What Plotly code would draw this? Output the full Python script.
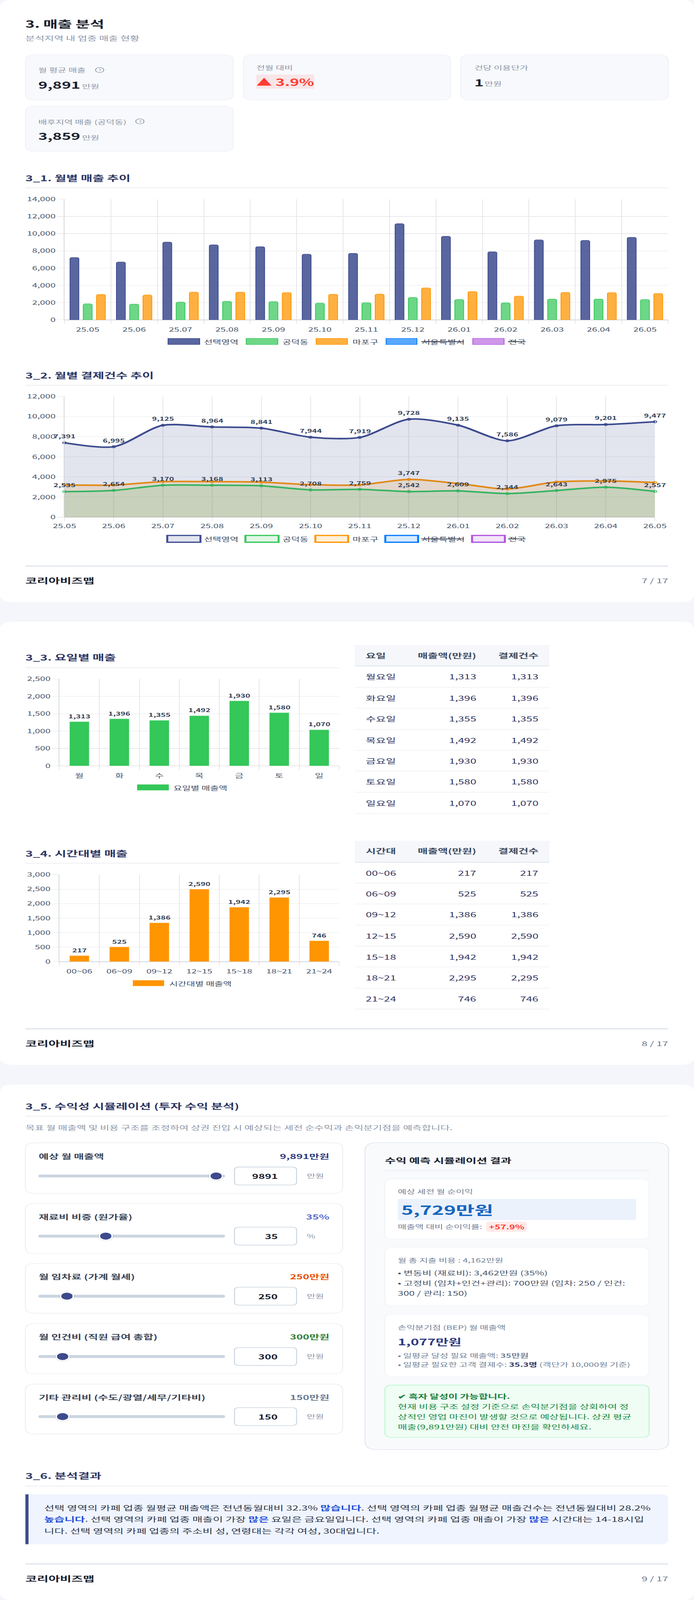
import plotly.graph_objects as go

W = 1776
H = 6604
FONT = "Noto Sans CJK KR"

# monthly data
months = ["25.05", "25.06", "25.07", "25.08", "25.09", "25.10", "25.11", "25.12", "26.01", "26.02", "26.03", "26.04", "26.05"]
sales_sel = [7222, 6706, 9014, 8698, 8483, 7609, 7709, 11149, 9687, 7896, 9271, 9214, 9573]
sales_dong = [1849, 1820, 2049, 2150, 2107, 1935, 1978, 2594, 2350, 1963, 2407, 2407, 2350]
sales_gu = [2938, 2880, 3210, 3210, 3153, 2966, 2980, 3697, 3282, 2751, 3181, 3153, 3052]
count_sel = [7391, 6995, 9125, 8964, 8841, 7944, 7919, 9728, 9135, 7586, 9079, 9201, 9477]
count_dong = [2535, 2654, 3170, 3168, 3113, 2708, 2759, 2542, 2609, 2344, 2643, 2975, 2557]
count_gu = [3207, 3190, 3527, 3527, 3477, 3224, 3207, 3747, 3342, 2802, 3494, 3590, 3443]

# weekday / time band: drawn bar height differs a little from the printed number
days = ["월", "화", "수", "목", "금", "토", "일"]
day_names = ["월요일", "화요일", "수요일", "목요일", "금요일", "토요일", "일요일"]
day_labels = [1313, 1396, 1355, 1492, 1930, 1580, 1070]
day_bars = [1268, 1352, 1308, 1441, 1868, 1526, 1036]
hours = ["00~06", "06~09", "09~12", "12~15", "15~18", "18~21", "21~24"]
hour_labels = [217, 525, 1386, 2590, 1942, 2295, 746]
hour_bars = [202, 504, 1334, 2496, 1872, 2208, 715]

legend_names = ["선택영역", "공덕동", "마포구", "서울특별시", "전국"]
legend_rgb = ["61,75,142", "52,199,89", "255,149,0", "0,122,255", "175,82,222"]

# simulator
slider_names = ["예상 월 매출액", "재료비 비중 (원가율)", "월 임차료 (가계 월세)", "월 인건비 (직원 급여 총합)", "기타 관리비 (수도/광열/세무/기타비)"]
slider_values = [9891, 35, 250, 300, 150]
slider_max = [10000, 100, 2000, 3000, 1500]
slider_text = ["9,891만원", "35%", "250만원", "300만원", "150만원"]
slider_units = ["만원", "%", "만원", "만원", "만원"]
slider_colors = ["#2d3b80", "#5a67c8", "#e65100", "#2e7d32", "#6b7a90"]

TITLE = "#2d3561"
GRAY = "#8b95a7"
TICK = "#475569"
GRID = "#e9e9ec"
GRID_V = "#e6e6e9"

shapes = []
notes = []


def fx(x):
    return x / W


def fy(y):
    return 1 - y / H


def rrect(x0, y0, x1, y1, r, fill, line=None, lw=0, corners=(1, 1, 1, 1)):
    # corners: tl, tr, br, bl
    tl, tr, br, bl = [r * c for c in corners]
    X0, X1, Y0, Y1 = fx(x0), fx(x1), fy(y0), fy(y1)
    rx = lambda v: v / W
    ry = lambda v: v / H
    p = f"M {X0 + rx(tl)} {Y0} L {X1 - rx(tr)} {Y0} Q {X1} {Y0} {X1} {Y0 - ry(tr)} "
    p += f"L {X1} {Y1 + ry(br)} Q {X1} {Y1} {X1 - rx(br)} {Y1} "
    p += f"L {X0 + rx(bl)} {Y1} Q {X0} {Y1} {X0} {Y1 + ry(bl)} "
    p += f"L {X0} {Y0 - ry(tl)} Q {X0} {Y0} {X0 + rx(tl)} {Y0} Z"
    shapes.append(dict(type="path", path=p, xref="paper", yref="paper", fillcolor=fill,
                       line=dict(color=line or "rgba(0,0,0,0)", width=lw), layer="below"))


def rect(x0, y0, x1, y1, fill):
    shapes.append(dict(type="rect", xref="paper", yref="paper", x0=fx(x0), x1=fx(x1), y0=fy(y0), y1=fy(y1),
                       fillcolor=fill, line=dict(width=0), layer="below"))


def circle(cx, cy, r, fill, line=None, lw=0, layer="below"):
    shapes.append(dict(type="circle", xref="paper", yref="paper", x0=fx(cx - r), x1=fx(cx + r), y0=fy(cy - r), y1=fy(cy + r),
                       fillcolor=fill, line=dict(color=line or "rgba(0,0,0,0)", width=lw), layer=layer))


def txt(x, y, s, size, color, bold=False, anchor="left"):
    notes.append(dict(xref="paper", yref="paper", x=fx(x), y=fy(y), text=s, showarrow=False, xanchor=anchor, yanchor="middle",
                      borderpad=0, borderwidth=0,
                      font=dict(family=FONT, size=size, color=color, weight=700 if bold else 400)))


def data_label(axis, x, y, s, shift):
    notes.append(dict(xref="x" + axis, yref="y" + axis, x=x, y=y, yshift=shift, text=s, showarrow=False,
                      font=dict(family=FONT, size=21, color="#334155", weight=700)))


def section(y_title, y_rule, s, x1=1710):
    txt(65, y_title, s, 32.5, TITLE, True)
    rect(65, y_rule - 2, x1, y_rule + 2, "#f0f1f6")


def footer(y_rule, y_text, page):
    rect(65, y_rule - 1.5, 1710, y_rule + 1.5, "#cbd5e0")
    txt(65, y_text, "코리아비즈맵", 32, "#1a202c", True)
    txt(1710, y_text, page, 27, "#6b7a90", anchor="right")


def legend_row(xs, text_xs, y0, y1, y_text, strike_y, alphas, lw):
    for i, name in enumerate(legend_names):
        rrect(xs[i][0], y0, xs[i][1], y1, 0, f"rgba({legend_rgb[i]},{alphas[i]})", f"rgb({legend_rgb[i]})", lw)
        txt(text_xs[i], y_text, name, 24, "#3d4a5f")
    for i, w in ((3, 108), (4, 44)):
        rect(text_xs[i] - 1, strike_y - 1.5, text_xs[i] + w, strike_y + 1.5, "#2f3b4c")


# pages
rrect(0, 0, 1776, 2485, 32, "white")
rrect(0, 2566, 1776, 4395, 32, "white")
rrect(0, 4476, 1776, 6604, 32, "white")

txt(65, 97, "3. 매출 분석", 40, "#1a202c", True)
txt(65, 156, "분석지역 내 업종 매출 현황", 26.5, GRAY)

# KPI cards
for x0, x1, y0, y1 in [(65, 597, 226, 413), (623, 1153, 226, 413), (1179, 1710, 226, 413), (65, 597, 438, 625)]:
    rrect(x0, y0, x1, y1, 24, "#f8f9fc", "#eef0f5", 2)


def help_icon(cx, cy):
    circle(cx, cy, 10.5, "rgba(0,0,0,0)", GRAY, 2)
    txt(cx, cy, "?", 15, GRAY, anchor="center")


txt(98, 289, "월 평균 매출", 24, GRAY)
help_icon(255, 289)
txt(98, 349, "9,891", 40, "#1a202c", True)
txt(210, 355, "만원", 24, GRAY)
txt(656, 279, "전월 대비", 24, GRAY)
rect(656, 308, 804, 366, "#f8e5e8")
txt(656, 337, "▲ 3.9%", 40, "#ff3b30", True)
txt(1214, 279, "건당 이용단가", 24, GRAY)
txt(1214, 339, "1", 40, "#1a202c", True)
txt(1240, 344, "만원", 24, GRAY)
txt(98, 501, "배후지역 매출 (공덕동)", 24, GRAY)
help_icon(358, 501)
txt(98, 561, "3,859", 40, "#1a202c", True)
txt(210, 567, "만원", 24, GRAY)

section(733, 775, "3_1. 월별 매출 추이")
section(1548, 1590, "3_2. 월별 결제건수 추이")
footer(2336.5, 2395, "7 / 17")

bar_alpha = [0.85, 0.72, 0.75, 0.65, 0.6]
legend_row([(430, 511), (630, 711), (809, 889), (988, 1067), (1210, 1290)], [522, 723, 902, 1079, 1301], 1397, 1422, 1410, 1410, bar_alpha, 2)
legend_row([(428, 513), (628, 713), (807, 891), (986, 1070), (1208, 1292)], [522, 723, 902, 1079, 1301], 2210, 2238, 2224, 2224, [0.15] * 5, 5)

fig = go.Figure()

# chart 1
bar_series = [sales_sel, sales_dong, sales_gu]
for i in range(3):
    fig.add_trace(go.Bar(x=months, y=bar_series[i], name=legend_names[i], xaxis="x", yaxis="y",
                         marker=dict(color=f"rgba({legend_rgb[i]},{bar_alpha[i]})", cornerradius=5,
                                     line=dict(color=f"rgb({legend_rgb[i]})", width=2))))

# chart 2, reversed so that the first series ends up on top
line_series = [count_sel, count_dong, count_gu]
for i in [2, 1, 0]:
    fig.add_trace(go.Scatter(x=months, y=line_series[i], name=legend_names[i], mode="lines+markers", xaxis="x2", yaxis="y2",
                             fill="tozeroy", fillcolor=f"rgba({legend_rgb[i]},0.15)", cliponaxis=False,
                             line=dict(color=f"rgb({legend_rgb[i]})", width=6.5, shape="spline", smoothing=0.8),
                             marker=dict(size=9, color=f"rgba({legend_rgb[i]},0.15)", line=dict(color=f"rgb({legend_rgb[i]})", width=2.5))))

# month names look like numbers, so annotations on this axis go by category index
for k in range(len(months)):
    data_label("2", k, count_sel[k], f"{count_sel[k]:,}", 27)
    data_label("2", k, count_dong[k], f"{count_dong[k]:,}", 27)
data_label("2", 7, count_gu[7], f"{count_gu[7]:,}", 27)

# charts 3 and 4
fig.add_trace(go.Bar(x=days, y=day_bars, name="요일별 매출액", xaxis="x3", yaxis="y3", width=0.485,
                     marker=dict(color="#34c759", line=dict(width=1, color="#7be09a"))))
fig.add_trace(go.Bar(x=hours, y=hour_bars, name="시간대별 매출액", xaxis="x4", yaxis="y4", width=0.485,
                     marker=dict(color="#ff9500", line=dict(width=1, color="#ffbe6b"))))
for xv, yv, lab in zip(days, day_bars, day_labels):
    data_label("3", xv, yv, f"{lab:,}", 23)
for xv, yv, lab in zip(hours, hour_bars, hour_labels):
    data_label("4", xv, yv, f"{lab:,}", 23)

section(2712, 2756, "3_3. 요일별 매출", 868)
section(3520, 3563, "3_4. 시간대별 매출", 868)
rect(351, 3238, 432, 3262, "#34c759")
txt(444, 3250, "요일별 매출액", 24, "#3d4a5f")
rect(340, 4046, 420, 4070, "#ff9500")
txt(433, 4058, "시간대별 매출액", 24, "#3d4a5f")


def side_table(head, names, values, y_head0, y_head1, y_head, ys, lines):
    rect(908, y_head0, 1406, y_head1, "#f5f7fb")
    rect(908, y_head1, 1406, y_head1 + 4, "#e2e8f0")
    txt(936, y_head, head, 28, "#3d4a5f", True)
    txt(1219, y_head, "매출액(만원)", 28, "#3d4a5f", True, "right")
    txt(1378, y_head, "결제건수", 28, "#3d4a5f", True, "right")
    for i in range(len(names)):
        txt(936, ys[i], names[i], 28, "#2d3561")
        txt(1219, ys[i], f"{values[i]:,}", 28, "#2d3561", anchor="right")
        txt(1378, ys[i], f"{values[i]:,}", 28, "#2d3561", anchor="right")
        rect(908, lines[i] - 1.5, 1406, lines[i] + 1.5, "#f0f2f6")


side_table("요일", day_names, day_labels, 2662, 2746, 2704,
           [2792, 2880, 2966, 3054, 3140, 3226, 3314], [2837, 2923, 3011, 3097, 3182, 3270, 3357])
side_table("시간대", hours, hour_labels, 3470, 3557, 3511,
           [3602, 3688, 3774, 3862, 3949, 4035, 4122], [3645, 3731, 3819, 3905, 3991, 4079, 4165])
footer(4246.5, 4306, "8 / 17")

# simulator
section(4564, 4607, "3_5. 수익성 시뮬레이션 (투자 수익 분석)")
txt(65, 4652, "목표 월 매출액 및 비용 구조를 조정하여 상권 진입 시 예상되는 세전 순수익과 손익분기점을 예측합니다.", 26, GRAY)

card_tops = [(4717, 4925), (4967, 5174), (5215, 5420), (5463, 5671), (5713, 5919)]
label_y = [4771, 5021, 5268, 5516, 5767]
track_y = [4854, 5102, 5350, 5599, 5847]
for i in range(5):
    rrect(65, card_tops[i][0], 877, card_tops[i][1], 24, "white", "#edf0f5", 2.5)
    txt(99, label_y[i], slider_names[i], 28, "#3b4658", True)
    txt(843, label_y[i], slider_text[i], 28, slider_colors[i], True, "right")
    rrect(98, track_y[i] - 6, 576, track_y[i] + 6, 6, "#cbd5e0")
    thumb = 116 + 442 * slider_values[i] / slider_max[i]
    circle(thumb, track_y[i] + 1, 20, "rgba(0,0,0,0.08)")
    circle(thumb, track_y[i], 18, "white")
    circle(thumb, track_y[i], 14.5, "#3d4b8e")
    rrect(600, track_y[i] - 37, 759, track_y[i] + 37, 12, "white", "#cbd5e0", 2.5)
    txt(711, track_y[i], str(slider_values[i]), 28, "#1a202c", True, "right")
    txt(785, track_y[i] - 2, slider_units[i], 24, GRAY)

# result panel
rrect(934, 4716, 1711, 5983, 32, "#f8fafc", "#e2e8f0", 2.5)
txt(985, 4788, "수익 예측 시뮬레이션 결과", 30, "#1a202c", True)
rect(985, 4830, 1662, 4832, "#e2e8f0")
rrect(985, 4866, 1661, 5114, 20, "white", "#f0f3f7", 2)
txt(1018, 4916, "예상 세전 월 순이익", 24, "#718096")
rrect(1018, 4948, 1628, 5036, 6, "#ebf2fb")
txt(1027, 4992, "5,729만원", 52, "#1565c0", True)
txt(1018, 5062, "매출액 대비 순이익률:", 24, "#718096")
rrect(1244, 5043, 1348, 5084, 8, "#ffe9e9")
txt(1296, 5063, "+57.9%", 25, "#ff3b30", True, "center")

rrect(985, 5149, 1661, 5390, 20, "white", "#f0f3f7", 2)
txt(1018, 5200, "월 총 지출 비용 : 4,162만원", 24, "#718096")
txt(1018, 5252, "• 변동비 (재료비): 3,462만원 (35%)", 26, "#4a5568")
txt(1018, 5294, "• 고정비 (임차+인건+관리): 700만원 (임차: 250 / 인건:", 26, "#4a5568")
txt(1018, 5336, "300 / 관리: 150)", 26, "#4a5568")

rrect(985, 5425, 1661, 5682, 20, "white", "#f0f3f7", 2)
txt(1018, 5477, "손익분기점 (BEP) 월 매출액", 24, "#718096")
txt(1018, 5536, "1,077만원", 36, "#2d3b80", True)
txt(1018, 5593, "• 일평균 달성 필요 매출액: <b>35만원</b>", 24, "#718096")
txt(1018, 5630, "• 일평균 필요한 고객 결제수: <span style=\"color:#2d3561\"><b>35.3명</b></span> (객단가 10,000원 기준)", 24, "#718096")

rrect(985, 5717, 1661, 5933, 20, "#f0fdf4", "#bbf7d0", 2.5)
txt(1018, 5762, "✔ 흑자 달성이 가능합니다.", 26, "#15803d", True)
txt(1018, 5803, "현재 비용 구조 설정 기준으로 손익분기점을 상회하여 정", 26, "#16883f")
txt(1018, 5846, "상적인 영업 마진이 발생할 것으로 예상됩니다. 상권 평균", 26, "#16883f")
txt(1018, 5888, "매출(9,891만원) 대비 안전 마진을 확인하세요.", 26, "#16883f")

# summary
section(6090, 6134, "3_6. 분석결과")
rrect(65, 6168, 1710, 6374, 20, "#f0f4fe", corners=(0, 1, 1, 0))
rect(65, 6168, 73, 6374, "#3d4b8e")
hl = lambda s: f'<span style="color:#1d4ed8"><b>{s}</b></span>'
txt(113, 6222, f"선택 영역의 카페 업종 월평균 매출액은 전년동월대비 32.3% {hl('많습니다')}. 선택 영역의 카페 업종 월평균 매출건수는 전년동월대비 28.2%", 28.4, "#2d3748")
txt(113, 6269, f"{hl('높습니다')}. 선택 영역의 카페 업종 매출이 가장 {hl('많은')} 요일은 금요일입니다. 선택 영역의 카페 업종 매출이 가장 {hl('많은')} 시간대는 14-18시입", 28.4, "#2d3748")
txt(113, 6317, "니다. 선택 영역의 카페 업종의 주소비 성, 연령대는 각각 여성, 30대입니다.", 28.4, "#2d3748")
footer(6455, 6514, "9 / 17")


def x_axis(x0, x1, anchor, boundaries=True):
    d = dict(domain=[fx(x0), fx(x1)], anchor=anchor, type="category", showgrid=True, gridcolor=GRID_V, gridwidth=2,
             ticks="outside", ticklen=16, tickcolor=GRID_V, tickwidth=2, showline=False, zeroline=False,
             tickfont=dict(family=FONT, size=24, color=TICK))
    if boundaries:
        d["tickson"] = "boundaries"
        d["ticklabelstandoff"] = 24
    return d


def y_axis(y_top, y_bottom, anchor, top, step):
    return dict(domain=[fy(y_bottom), fy(y_top)], anchor=anchor, range=[0, top], dtick=step, tickformat=",d",
                showgrid=True, gridcolor=GRID, gridwidth=2, zeroline=True, zerolinecolor="#d6d7db", zerolinewidth=3,
                showline=True, linecolor="#d6d7db", linewidth=2,
                ticks="outside", ticklen=16, tickcolor=GRID, tickwidth=2,
                tickfont=dict(family=FONT, size=24, color=TICK))


xa2 = x_axis(165, 1676, "y2", boundaries=False)
xa2["range"] = [0, 12]
fig.update_layout(
    width=W, height=H, margin=dict(l=0, r=0, t=0, b=0, pad=0, autoexpand=False), autosize=False,
    paper_bgcolor="#f4f6fb", plot_bgcolor="rgba(0,0,0,0)", showlegend=False,
    barmode="group", bargap=0.143, bargroupgap=0.335,
    xaxis=x_axis(165, 1710, "y"), yaxis=y_axis(822, 1320, "x", 14000, 2000),
    xaxis2=xa2, yaxis2=y_axis(1636, 2134.5, "x2", 12000, 2000),
    xaxis3=x_axis(152, 868, "y3"), yaxis3=y_axis(2802.5, 3161, "x3", 2500, 500),
    xaxis4=x_axis(152, 868, "y4"), yaxis4=y_axis(3610, 3969, "x4", 3000, 500),
    shapes=shapes, annotations=notes,
    font=dict(family=FONT),
)

# the browser caps the window at 4096px tall, shorter than the figure. Squeeze the page
# vertically to fit a short window; at the full 6604px the scale is 1 and nothing changes.
fit_js = """
document.body.style.margin='0';
var s=Math.min(1,window.innerHeight/%d);
var g=document.querySelector('.plotly-graph-div');
g.style.transformOrigin='0 0';
g.style.transform='scale(1,'+s+')';
""" % H
fig.write_html("out.html", config=dict(displayModeBar=False), post_script=fit_js)
